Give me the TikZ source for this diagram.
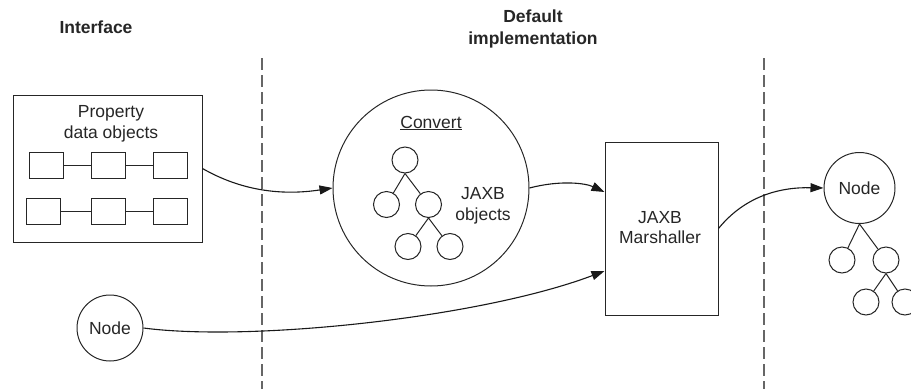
\documentclass[tikz,border=0pt]{standalone}
\usepackage{fontspec}
\setmainfont{Liberation Sans}
\usetikzlibrary{arrows.meta}
\begin{document}
\begin{tikzpicture}[x=1pt,y=-1pt,
  every node/.style={font=\fontsize{17.5}{20.5}\selectfont, text=black!85},
  hdr/.style={font=\bfseries\fontsize{17.5}{22}\selectfont, align=center},
  lbl/.style={align=center, inner sep=0pt},
  boxnode/.style={draw=black!85, line width=1pt, inner sep=0pt},
  smallbox/.style={boxnode, minimum width=34pt, minimum height=26pt},
  bigcirc/.style={draw=black!85, line width=1pt, circle, inner sep=0pt},
  tcirc/.style={draw=black!85, line width=1pt, circle, inner sep=0pt, minimum size=26pt},
  tline/.style={line width=1pt, draw=black!85},
  conn/.style={line width=1.1pt, draw=black!90, -{Triangle[length=13pt,width=9pt]}},
  conn0/.style={line width=1.1pt, draw=black!90},
  divider/.style={line width=1.4pt, draw=black!60, dash pattern=on 12pt off 5pt}
]
\useasboundingbox (0,0) rectangle (911,389);

% headers
\node[hdr] (hint) at (96,27) {Interface};
\node[hdr] (hdef) at (533,29) {Default\\implementation};

% dividers
\coordinate (d1t) at (262,58);
\coordinate (d1b) at (262,389);
\coordinate (d2t) at (764,58);
\coordinate (d2b) at (764,389);
\draw[divider] (d1t) -- (d1b);
\draw[divider] (d2t) -- (d2b);

% property data objects box
\node[boxnode, minimum width=189pt, minimum height=147pt] (pbox) at (107.5,168.5) {};
\node[lbl] (ptext) at (111,124) {Property\\data objects};
\node[smallbox] (a1) at (46,165) {};
\node[smallbox] (a2) at (108.5,165) {};
\node[smallbox] (a3) at (170,165) {};
\node[smallbox] (b1) at (43.5,211) {};
\node[smallbox] (b2) at (108.5,211) {};
\node[smallbox] (b3) at (170,211) {};
\draw[tline] (a1) -- (a2) (a2) -- (a3) (b1) -- (b2) (b2) -- (b3);

% convert circle
\node[bigcirc, minimum size=196pt] (conv) at (431,188) {};
\node[lbl] (ctext) at (431,123) {\underline{Convert}};
\node[tcirc] (t0) at (405,160) {};
\node[tcirc] (t1) at (386.5,204.5) {};
\node[tcirc] (t2) at (428.5,204.5) {};
\node[tcirc] (t3) at (408,246.5) {};
\node[tcirc] (t4) at (450,246.5) {};
\draw[tline] (t0.south) -- (t1) (t0.south) -- (t2) (t2.south) -- (t3) (t2.south) -- (t4);
\node[lbl] (jtext) at (483,206) {JAXB\\objects};

% marshaller
\node[boxnode, minimum width=113pt, minimum height=173pt] (mar) at (661.5,228.5) {};
\node[lbl] (mtext) at (660,227.5) {JAXB\\Marshaller};

% right node tree
\node[bigcirc, minimum size=71pt] (rn) at (859.5,188) {Node};
\node[tcirc] (r1) at (842,260) {};
\node[tcirc] (r2) at (886,260) {};
\node[tcirc] (r3) at (866,302) {};
\node[tcirc] (r4) at (905,302) {};
\draw[tline] (rn.south) -- (r1) (rn.south) -- (r2) (r2.south) -- (r3) (r2.south) -- (r4);

% lower node
\node[bigcirc, minimum size=66pt] (ln) at (110,328) {Node};

% connectors
\draw[conn] (pbox.east) .. controls (240,190) and (280,196) .. (conv.west);
\draw[conn] (conv.east) .. controls (560,180) and (585,183) .. ([yshift=36.5pt]mar.west);
\draw[conn] (mar.east) .. controls (745,196) and (780,187) .. (rn.west);
\draw[conn] (ln.east) .. controls (250,342) and (480,318) .. ([yshift=-42.5pt]mar.west);
\end{tikzpicture}
\end{document}
